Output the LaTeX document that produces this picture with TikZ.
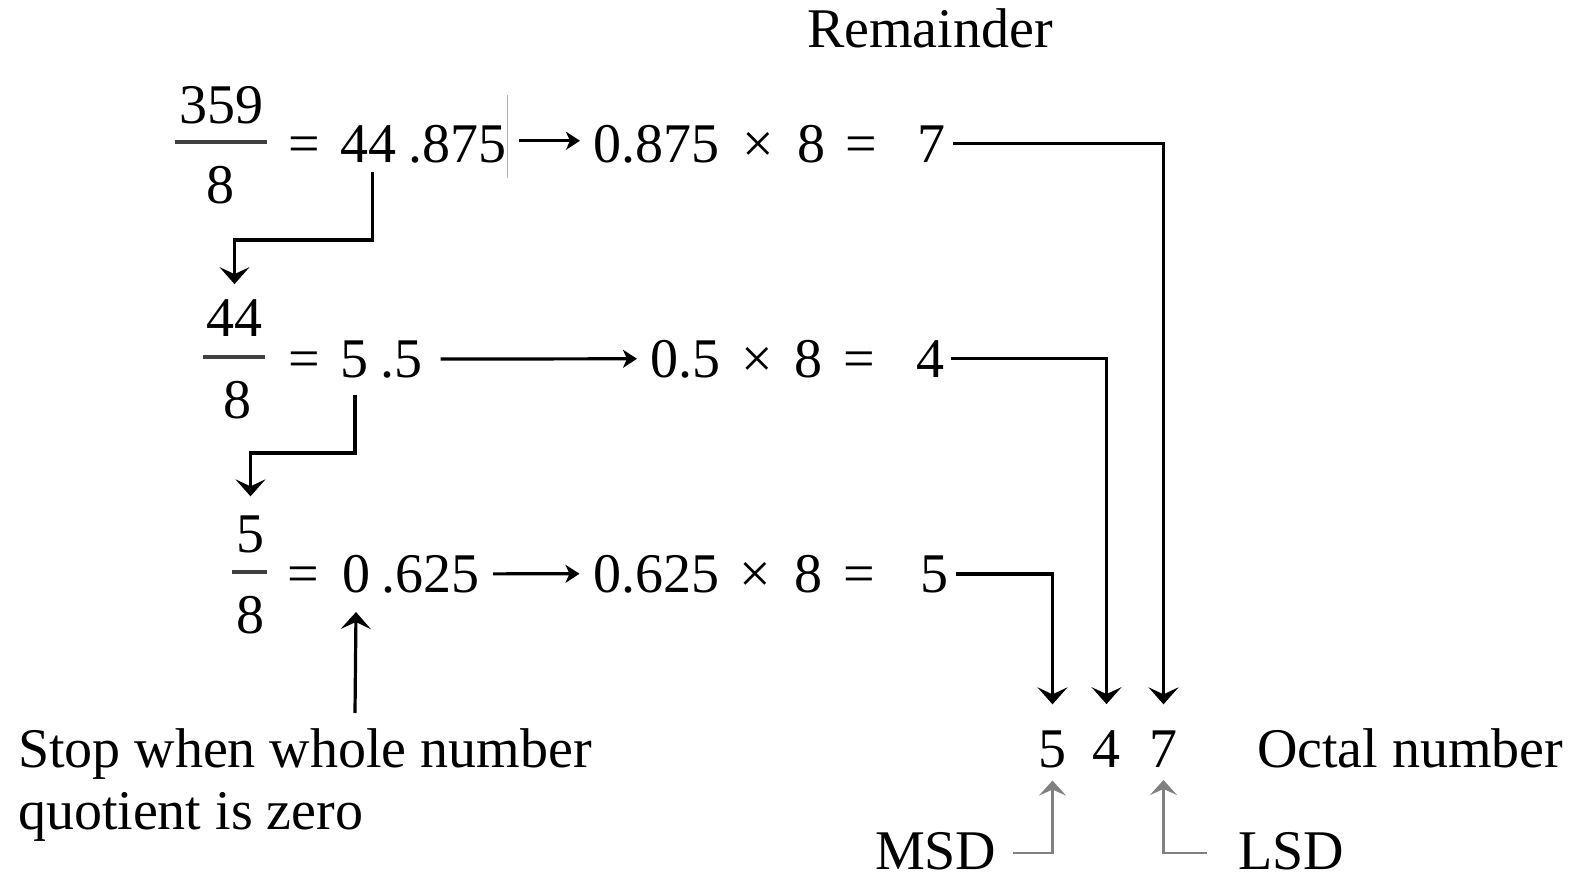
\documentclass[tikz,border=0pt]{standalone}
\usepackage{fontspec}
\setmainfont{Liberation Serif}
\usetikzlibrary{arrows.meta}
\newcommand\fsz{\fontsize{56}{60}\selectfont}
\begin{document}
\begin{tikzpicture}[x=1pt,y=-1pt,
  txt/.style={inner sep=0pt, outer sep=0pt, anchor=base, font=\fsz},
  txtw/.style={txt, anchor=base west},
  conn/.style={line width=3.2pt},
  harr/.style={conn, -{Stealth[length=14pt,width=18pt,inset=4pt]}},
  darr/.style={conn, -{Stealth[length=17pt,width=30pt,inset=7pt]}},
  uarr/.style={line width=2.4pt, draw=black!50, -{Stealth[length=15pt,width=27pt,inset=6pt]}},
  fbar/.style={line width=3.5pt, draw=black!75},
  faint/.style={line width=1pt, draw=black!30}]
\useasboundingbox (0,0) rectangle (1572,883);

% heading
\node[txt] (rem) at (930,48) {Remainder};

% row 1
\node[txt] (n1) at (221.5,123) {359};
\draw[fbar] (175,142) -- (267,142);
\node[txt] (d1) at (220.5,203) {8};
\node[txt] (eq1) at (304.5,162) {=};
\node[txt] (q1) at (368.5,162) {44};
\node[txt] (f1) at (457.5,162) {.875};
\draw[faint] (507,95) -- (507,178);
\node[txt] (m1) at (656,162) {0.875};
\node[txt] (x1) at (758,162) {×};
\node[txt] (e1) at (811,162) {8};
\node[txt] (s1) at (861.5,162) {=};
\node[txt] (r1) at (931.5,162) {7};

% row 2
\node[txt] (n2) at (234.5,336) {44};
\draw[fbar] (203,357) -- (265,357);
\node[txt] (d2) at (237.5,418) {8};
\node[txt] (eq2) at (304.5,377) {=};
\node[txt] (q2) at (354,377) {5};
\node[txt] (f2) at (401.5,377) {.5};
\node[txt] (m2) at (685,377) {0.5};
\node[txt] (x2) at (757.5,377) {×};
\node[txt] (e2) at (808,377) {8};
\node[txt] (s2) at (859.5,377) {=};
\node[txt] (r2) at (930,377) {4};

% row 3
\node[txt] (n3) at (250.5,552) {5};
\draw[fbar] (232,572) -- (267,572);
\node[txt] (d3) at (250.5,633) {8};
\node[txt] (eq3) at (303.5,592) {=};
\node[txt] (q3) at (356,592) {0};
\node[txt] (f3) at (430,592) {.625};
\node[txt] (m3) at (656.5,592) {0.625};
\node[txt] (x3) at (755,592) {×};
\node[txt] (e3) at (808.5,592) {8};
\node[txt] (s3) at (859,592) {=};
\node[txt] (r3) at (934.5,592) {5};

% bottom texts
\node[txtw] (stop1) at (18,767) {Stop when whole number};
\node[txtw] (stop2) at (18,829) {quotient is zero};
\node[txt] (o1) at (1052.5,767) {5};
\node[txt] (o2) at (1106.5,767) {4};
\node[txt] (o3) at (1163.5,767) {7};
\node[txtw] (oct) at (1257,767) {Octal number};
\node[txtw] (msd) at (875,869) {MSD};
\node[txtw] (lsd) at (1238,869) {LSD};
\coordinate (stopc) at (355,713);

% horizontal arrows
\draw[harr] ([xshift=12pt,yshift=3pt]f1.east) -- ([xshift=-13pt,yshift=3pt]m1.west);
\draw[harr] ([xshift=18pt]f2.east) -- ([xshift=-13pt]m2.west);
\draw[harr] ([xshift=14pt]f3.east) -- ([xshift=-14pt]m3.west);

% quotient carry-down arrows
\draw[darr] ([xshift=4pt,yshift=-10pt]q1.base) -- ++(0,68) -| ([yshift=15pt]n2.north);
\draw[darr] ([xshift=1pt,yshift=-18pt]q2.base) -- ++(0,58) -| ([yshift=19pt]n3.north);
\draw[darr] (stopc) -- ([yshift=-20pt]q3.base);

% remainders to octal digits
\draw[darr] ([xshift=7pt]r1.east) -| ([yshift=26pt]o3.north);
\draw[darr] ([xshift=7pt]r2.east) -| ([yshift=26pt]o2.north);
\draw[darr] ([xshift=7pt]r3.east) -| ([yshift=26pt]o1.north);

% MSD / LSD pointers
\draw[uarr] ([xshift=17pt,yshift=-2pt]msd.east) -| ([yshift=-13pt]o1.south);
\draw[uarr] ([xshift=-31pt,yshift=-2pt]lsd.west) -| ([yshift=-13pt]o3.south);
\end{tikzpicture}
\end{document}
